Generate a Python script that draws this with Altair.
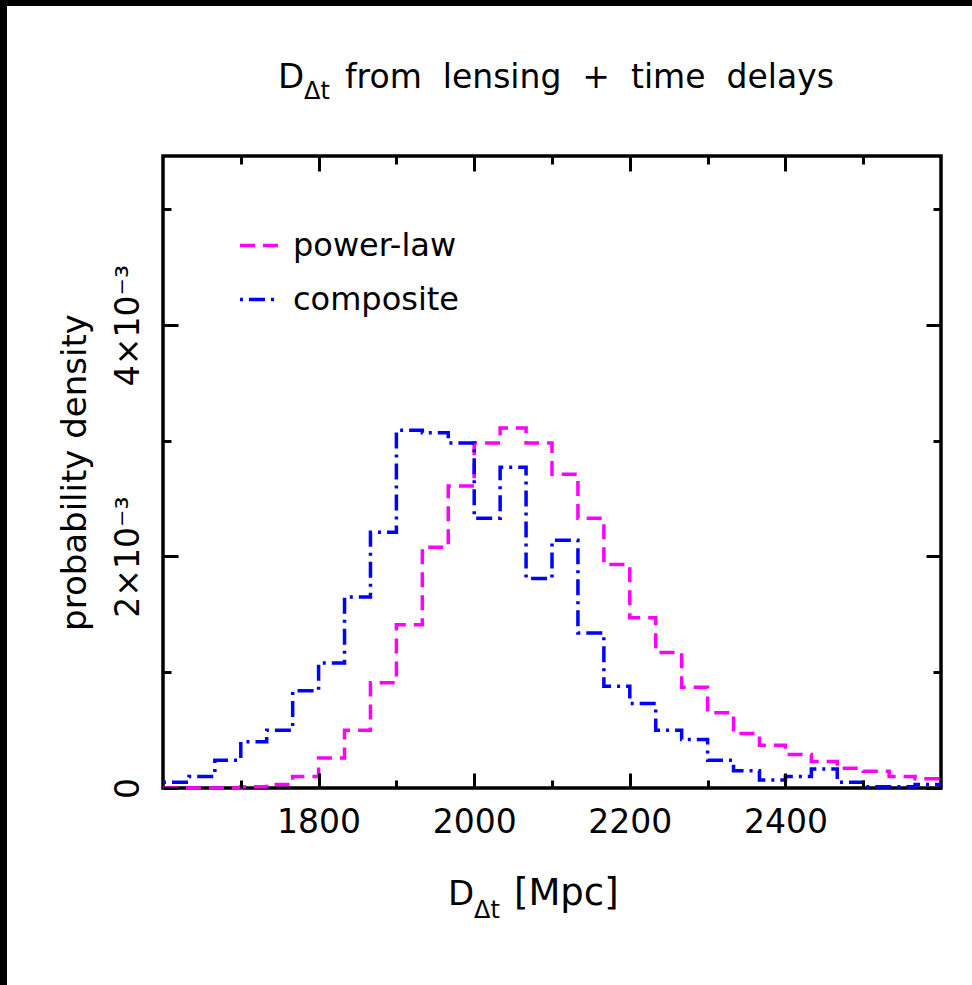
import altair as alt
import pandas as pd

# ---------------- data ----------------
# 30 equal-width histogram bins spanning 1600-2600 Mpc
bin_lo = 1600
bin_hi = 2600
n_bins = 30

models = ["power-law", "composite"]

# probability density, in units of 10^-3 per Mpc, one value per bin
power_law = [0.0, 0.0, 0.0, 0.01, 0.03, 0.10, 0.26, 0.50, 0.91, 1.41,
             2.08, 2.61, 2.98, 3.11, 2.98, 2.71, 2.33, 1.93, 1.47, 1.17,
             0.87, 0.65, 0.47, 0.37, 0.29, 0.23, 0.17, 0.145, 0.10, 0.08]
composite = [0.05, 0.10, 0.24, 0.40, 0.50, 0.84, 1.08, 1.65, 2.21, 3.09,
             3.07, 2.98, 2.33, 2.77, 1.81, 2.14, 1.34, 0.88, 0.73, 0.50,
             0.42, 0.24, 0.15, 0.07, 0.10, 0.165, 0.05, 0.01, 0.01, 0.03]

x_major = [1800, 2000, 2200, 2400]
x_minor = [1700, 1900, 2100, 2300, 2500]
y_major = [0, 2, 4]
y_minor = [1, 3, 5]

title_main = "from\u00a0 lensing\u00a0 +\u00a0 time\u00a0 delays"
xlabel_unit = "[Mpc]"
ylabel = "probability density"

# ---------------- table ----------------
width_bin = (bin_hi - bin_lo) / n_bins
rows = []
for name, vals in zip(models, [power_law, composite]):
    for i in range(n_bins + 1):
        rows.append({"model": name,
                     "D": bin_lo + i * width_bin,
                     "p": vals[min(i, n_bins - 1)]})
df = pd.DataFrame(rows)

FONT = "DejaVu Sans"
W, H = 778, 632
PAD_L, PAD_T = 163, 156
MAJ, MIN = 15, 8

xs = alt.Scale(domain=[bin_lo, bin_hi], nice=False, zero=False)
ys = alt.Scale(domain=[0, 5.46], nice=False, zero=False)


def axis(orient, values, size, labels=False, **extra):
    kw = dict(orient=orient, values=values, tickSize=size, offset=-size,
              labels=labels, title="", grid=False, domain=False, ticks=True,
              tickColor="black", tickWidth=3, zindex=1)
    kw.update(extra)
    return alt.Axis(**kw)


legend = alt.Legend(orient="none", legendX=75, legendY=68, title=None,
                    labelFont=FONT, labelFontSize=32, labelColor="black",
                    labelLimit=0,
                    symbolType="stroke", symbolSize=1521, symbolStrokeWidth=3.5,
                    labelOffset=12, rowPadding=16, padding=0)

base = alt.Chart(df)

main = base.mark_line(interpolate="step-after", strokeWidth=3.5).encode(
    x=alt.X("D:Q", scale=xs,
            axis=axis("bottom", x_major, MAJ, labels=True, format="d",
                      labelFont=FONT, labelFontSize=33, labelColor="black",
                      labelPadding=18, labelFlush=False, labelOverlap=False)),
    y=alt.Y("p:Q", scale=ys,
            axis=axis("left", y_major, MAJ, labels=True,
                      labelFont=FONT, labelFontSize=33, labelColor="black",
                      labelAngle=270, labelAlign="center",
                      labelBaseline="alphabetic", labelPadding=25,
                      labelFlush=False, labelOverlap=False,
                      labelExpr="datum.value == 0 ? '0' : datum.value + '\u00d710\u207b\u00b3'",
                      title=ylabel, titleFont=FONT, titleFontSize=34,
                      titleFontWeight="normal", titleColor="black",
                      titlePadding=20)),
    color=alt.Color("model:N",
                    scale=alt.Scale(domain=models, range=["#ff00ff", "#0000ff"]),
                    legend=legend),
    strokeDash=alt.StrokeDash("model:N",
                              scale=alt.Scale(domain=models,
                                              range=[[15, 8], [3, 6, 16, 6]]),
                              legend=legend),
)


def ghost(xo, xv, xsz, yo, yv, ysz):
    return base.mark_line(interpolate="step-after", opacity=0).encode(
        x=alt.X("D:Q", scale=xs, axis=axis(xo, xv, xsz)),
        y=alt.Y("p:Q", scale=ys, axis=axis(yo, yv, ysz)),
        detail="model:N",
    )


g1 = ghost("top", x_major, MAJ, "right", y_major, MAJ)
g2 = ghost("bottom", x_minor, MIN, "left", y_minor, MIN)
g3 = ghost("top", x_minor, MIN, "right", y_minor, MIN)


def text(t, x, y, size):
    return alt.Chart(pd.DataFrame({"t": [t]})).mark_text(
        font=FONT, fontSize=size, align="left", baseline="alphabetic",
        color="black").encode(x=alt.value(x), y=alt.value(y), text="t:N")


title_layers = [
    text("D", 278 - PAD_L, 88 - PAD_T, 34),
    text("\u0394t", 304 - PAD_L, 99 - PAD_T, 24),
    text(title_main, 345 - PAD_L, 88 - PAD_T, 33),
]
xlabel_layers = [
    text("D", 448 - PAD_L, 905 - PAD_T, 34),
    text("\u0394t", 474 - PAD_L, 918 - PAD_T, 24),
    text(xlabel_unit, 514 - PAD_L, 905 - PAD_T, 37),
]

one = pd.DataFrame({"k": [0]})
border_top = alt.Chart(one).mark_rect(color="black").encode(
    x=alt.value(-PAD_L), x2=alt.value(972 - PAD_L),
    y=alt.value(-PAD_T), y2=alt.value(6 - PAD_T))
border_left = alt.Chart(one).mark_rect(color="black").encode(
    x=alt.value(-PAD_L), x2=alt.value(7 - PAD_L),
    y=alt.value(-PAD_T), y2=alt.value(985 - PAD_T))

chart = alt.layer(
    border_top, border_left, g1, g2, g3, main, *title_layers, *xlabel_layers
).resolve_axis(x="independent", y="independent").properties(
    width=W, height=H,
    autosize=alt.AutoSizeParams(type="none"),
    padding={"left": PAD_L, "top": PAD_T, "right": 972 - PAD_L - W,
             "bottom": 985 - PAD_T - H},
    background="white",
).configure(
    font=FONT,
    view=alt.ViewConfig(stroke="black", strokeWidth=3.5),
)

chart.save("out.html", embed_options={"renderer": "svg", "actions": False})
